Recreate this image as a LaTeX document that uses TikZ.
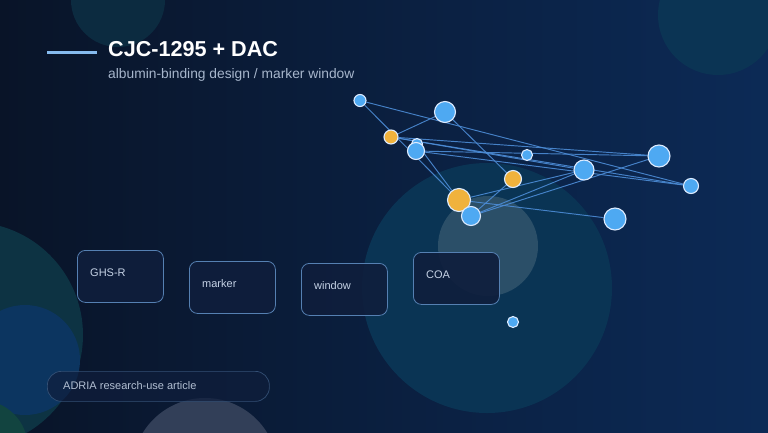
\documentclass[tikz,border=0pt]{standalone}
\usepackage{fontspec}
\setmainfont{Liberation Sans}
\usetikzlibrary{positioning}
\usetikzlibrary{calc}
\definecolor{bgleft}{HTML}{091428}
\definecolor{bgright}{HTML}{0C2A56}
\definecolor{dotblue}{HTML}{4EA9F2}
\definecolor{dotgold}{HTML}{F0B23C}
\definecolor{dotrim}{HTML}{DDEBFF}
\definecolor{linkblue}{HTML}{4C8CD6}
\definecolor{cardrim}{HTML}{5580B2}
\definecolor{cardfill}{HTML}{0F1E3C}
\definecolor{labelgray}{HTML}{C5D2E5}
\definecolor{subgray}{HTML}{A7B6CC}
\definecolor{rulecol}{HTML}{86BBEE}
\pgfdeclarelayer{backdrop}
\pgfdeclarelayer{edges}
\pgfsetlayers{backdrop,edges,main}

\begin{document}
\begin{tikzpicture}[x=1pt, y=-1pt,
    every node/.style={font=\fontsize{11}{13}\selectfont},
    dot/.style={circle, draw=dotrim, line width=1.1pt, inner sep=0pt},
    link/.style={draw=linkblue, line width=0.95pt, opacity=0.9},
    card/.style={draw=cardrim, line width=0.8pt, fill=cardfill, fill opacity=0.9,
        rounded corners=8pt, minimum width=86pt, minimum height=52pt, anchor=north west, inner sep=0pt},
    cardlabel/.style={anchor=base west, inner sep=0pt, text=labelgray}]
    \useasboundingbox (0,0) rectangle (768,432);
    % backdrop and soft discs
    \begin{pgfonlayer}{backdrop}
        \fill[left color=bgleft, right color=bgright] (0,0) rectangle (768,432);
        \foreach \cx/\cy/\cr/\cc in {118/0/47/0C2B40, 718/15/60/0B3454, 487/288/125/0A3454,
            488/246/50/2B4F68, -30/335/113/0D3343, 25/360/55/0C3560, -20/448/48/124440, 205/471/73/323F58} {
            \definecolor{disc}{HTML}{\cc}
            \fill[disc] (\cx,\cy) circle (\cr);
        }
    \end{pgfonlayer}
    % heading
    \draw[rulecol, line width=2.2pt] (47,52.5) -- (97,52.5);
    \node[anchor=base west, inner sep=0pt, text=white, font=\fontsize{21.6}{26}\selectfont\bfseries] (title) at (108,56) {CJC-1295 + DAC};
    \node[anchor=base west, inner sep=0pt, text=subgray, font=\fontsize{13.8}{16}\selectfont] (subtitle) at (108,78) {albumin-binding design / marker window};
    % network
    \foreach \nm/\px/\py/\rad/\col in {A/360/100.5/6/dotblue, B/445/112/10.5/dotblue, C/391/137/7/dotgold,
        Dp/417/144/5.5/dotblue, D/416/151/8.5/dotblue, E/527/155/5.5/dotblue, F/659/156/11/dotblue,
        G/584/170/10/dotblue, H/691/186/7.5/dotblue, I/513/179/8.5/dotgold, J/459/200/11.5/dotgold,
        K/471/216/9.5/dotblue, L/615/219/11/dotblue, M/513/322/5.5/dotblue} {
        \node[dot, fill=\col, minimum size=2*\rad*1pt] (\nm) at (\px,\py) {};
    }
    \begin{pgfonlayer}{edges}
        \foreach \a/\b in {A/J, A/H, B/C, B/I, C/F, C/G, C/H, D/F, D/H, Dp/J, J/G, J/L, K/I, K/G, K/F} {
            \draw[link] (\a) -- (\b);
        }
    \end{pgfonlayer}
    % cards
    \foreach \nm/\px/\py/\txt in {ghs/77/250/GHS-R, marker/189/261/marker, window/301/263/window, coa/413/252/COA} {
        \node[card] (\nm) at (\px,\py) {};
        \node[cardlabel] (\nm-t) at ($(\nm.north west)+(13,26)$) {\txt};
    }
    % footer
    \node[draw=cardrim!55!bgleft, line width=0.7pt, fill=cardfill, fill opacity=0.7, rounded corners=14pt,
        minimum width=222pt, minimum height=30pt, anchor=north west, inner sep=0pt] (foot) at (47,371) {};
    \node[cardlabel, text=labelgray!90!bgleft] (foot-t) at ($(foot.north west)+(16,18)$) {ADRIA research-use article};
\end{tikzpicture}
\end{document}
